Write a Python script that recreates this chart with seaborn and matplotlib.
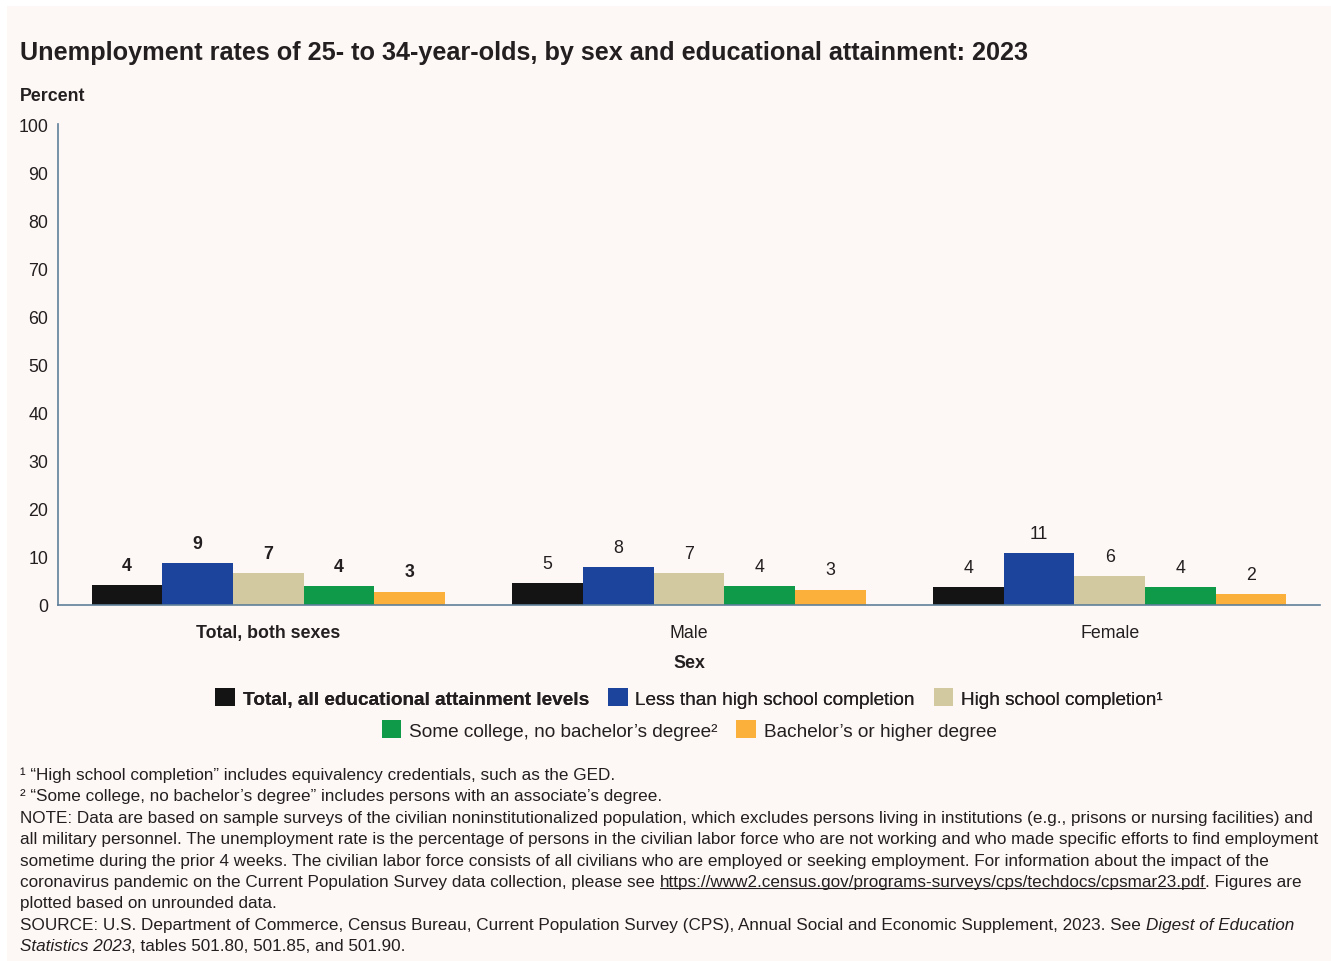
import matplotlib
matplotlib.use("Agg")
import matplotlib.pyplot as plt
from matplotlib.patches import Patch, Rectangle
from matplotlib.lines import Line2D
import seaborn as sns
import pandas as pd

# ---- data -------------------------------------------------------------
sexes = ["Total, both sexes", "Male", "Female"]
levels = [
    "Total, all educational attainment levels",
    "Less than high school completion",
    "High school completion\u00b9",
    "Some college, no bachelor\u2019s degree\u00b2",
    "Bachelor\u2019s or higher degree",
]
total_rates = [4.2, 8.8, 6.6, 4.0, 2.8]
male_rates = [4.6, 7.9, 6.7, 4.0, 3.2]
female_rates = [3.8, 10.8, 6.0, 3.8, 2.3]
yticks = [0, 10, 20, 30, 40, 50, 60, 70, 80, 90, 100]

colors = ["#141414", "#1c449c", "#d3c9a0", "#0f9a4a", "#fbb03b"]

rows = []
for sex, vals in zip(sexes, [total_rates, male_rates, female_rates]):
    for lvl, v in zip(levels, vals):
        rows.append({"Sex": sex, "Level": lvl, "Rate": v})
df = pd.DataFrame(rows)

# ---- figure -----------------------------------------------------------
W, H = 1331, 962
sns.set_theme(style="white")
plt.rcParams["font.family"] = ["Liberation Sans", "DejaVu Sans"]
TXT = "#231f20"

fig = plt.figure(figsize=(W / 100, H / 100), dpi=100, facecolor="white")
fig.add_artist(Rectangle((7 / W, 0), 1 - 7 / W, 1 - 7 / H, transform=fig.transFigure,
                         facecolor="#fdf8f5", edgecolor="none", zorder=-10))


def fx(x):
    return x / W


def fy(y):
    return 1 - y / H


ax = fig.add_axes([fx(58), fy(606), fx(1320) - fx(58), fy(125) - fy(606)])
ax.set_facecolor("none")

sns.barplot(data=df, x="Sex", y="Rate", hue="Level", order=sexes, hue_order=levels,
            palette=colors, width=0.84, gap=0, saturation=1, legend=False,
            errorbar=None, ax=ax, linewidth=0)

ax.set_xlim(-0.5, 2.5)
ax.set_ylim(0, 100)
ax.set_yticks(yticks)
ax.set_yticklabels([str(t) for t in yticks], fontsize=12.8, color=TXT)
ax.tick_params(axis="both", length=0)
ax.tick_params(axis="y", pad=7)
ax.tick_params(axis="x", pad=14)
ax.set_xticks(range(len(sexes)))
ax.set_xticklabels(sexes, fontsize=12.8, color=TXT)
ax.get_xticklabels()[0].set_fontweight("bold")
ax.set_xlabel("")
ax.set_ylabel("")
for side in ["top", "right"]:
    ax.spines[side].set_visible(False)
for side in ["left", "bottom"]:
    ax.spines[side].set_color("#5f7f99")
    ax.spines[side].set_linewidth(1.2)

for cont in ax.containers:
    labels = [f"{v:.0f}" for v in cont.datavalues]
    texts = ax.bar_label(cont, labels=labels, padding=8, fontsize=12.8, color=TXT)
    texts[0].set_fontweight("bold")

# ---- titles -----------------------------------------------------------
fig.text(fx(20), fy(60), "Unemployment rates of 25- to 34-year-olds, by sex and educational attainment: 2023",
         fontsize=18.2, fontweight="bold", color=TXT, va="baseline", ha="left")
fig.text(fx(20), fy(101), "Percent", fontsize=12.8, fontweight="bold", color=TXT, va="baseline", ha="left")
fig.text(fx(689), fy(668), "Sex", fontsize=12.8, fontweight="bold", color=TXT, va="baseline", ha="center")

# ---- legend (two centred rows) ----------------------------------------
handles = [Patch(facecolor=c, edgecolor="none") for c in colors]
leg_kw = dict(frameon=False, fontsize=13.7, handlelength=1.03, handleheight=1.03,
              handletextpad=0.4, columnspacing=1.0, borderaxespad=0, borderpad=0,
              labelcolor=TXT)
leg1 = fig.legend(handles[:3], levels[:3], loc="center", ncol=3,
                  bbox_to_anchor=(fx(689), fy(699)), **leg_kw)
leg1.get_texts()[0].set_fontweight("bold")
leg2 = fig.legend(handles[3:], levels[3:], loc="center", ncol=2,
                  bbox_to_anchor=(fx(689), fy(731)), **leg_kw)
fig.add_artist(leg1)

# ---- notes ------------------------------------------------------------
renderer = fig.canvas.get_renderer()
NOTE_SIZE = 12.3


def measure(s, **kw):
    t = fig.text(0, 0, s, fontsize=NOTE_SIZE, **kw)
    w = t.get_window_extent(renderer).width
    t.remove()
    return w


space_w = measure("a a") - measure("aa")


def runs(x, y, parts):
    """Draw a line made of styled runs; each part is (text, style)."""
    xpix = x
    for text, style in parts:
        lead = len(text) - len(text.lstrip(" "))
        trail = len(text) - len(text.rstrip(" "))
        core = text.strip(" ")
        xpix += lead * space_w
        kw = {}
        if style == "italic":
            kw["style"] = "italic"
        t = fig.text(fx(xpix), fy(y), core, fontsize=NOTE_SIZE, color=TXT,
                     va="baseline", ha="left", **kw)
        bb = t.get_window_extent(renderer)
        if style == "underline":
            fig.add_artist(Line2D([bb.x0, bb.x1], [bb.y0 + 1.5, bb.y0 + 1.5],
                                  transform=None, color=TXT, linewidth=0.8))
        xpix = bb.x1 + trail * space_w


note_lines = [
    [("\u00b9 \u201cHigh school completion\u201d includes equivalency credentials, such as the GED.", "")],
    [("\u00b2 \u201cSome college, no bachelor\u2019s degree\u201d includes persons with an associate\u2019s degree.", "")],
    [("NOTE: Data are based on sample surveys of the civilian noninstitutionalized population, which excludes persons living in institutions (e.g., prisons or nursing facilities) and", "")],
    [("all military personnel. The unemployment rate is the percentage of persons in the civilian labor force who are not working and who made specific efforts to find employment", "")],
    [("sometime during the prior 4 weeks. The civilian labor force consists of all civilians who are employed or seeking employment. For information about the impact of the", "")],
    [("coronavirus pandemic on the Current Population Survey data collection, please see ", ""),
     ("https://www2.census.gov/programs-surveys/cps/techdocs/cpsmar23.pdf", "underline"),
     (". Figures are", "")],
    [("plotted based on unrounded data.", "")],
    [("SOURCE: U.S. Department of Commerce, Census Bureau, Current Population Survey (CPS), Annual Social and Economic Supplement, 2023. See ", ""),
     ("Digest of Education", "italic")],
    [("Statistics 2023", "italic"), (", tables 501.80, 501.85, and 501.90.", "")],
]
baseline0 = 780
for i, parts in enumerate(note_lines):
    runs(20, baseline0 + i * 21.4, parts)

fig.savefig("out.png", dpi=100, facecolor=fig.get_facecolor())
